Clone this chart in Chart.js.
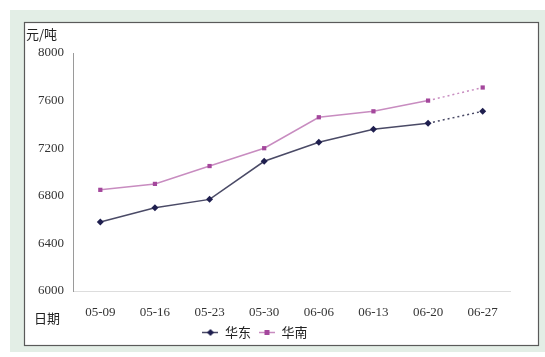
<!DOCTYPE html>
<html>
<head>
<meta charset="utf-8">
<style>
  html, body { margin: 0; padding: 0; background: #ffffff; }
  #wrap { width: 545px; height: 357px; position: relative; }
</style>
<script src="https://cdn.jsdelivr.net/npm/chart.js@4/dist/chart.umd.min.js"></script>
</head>
<body>
<div id="wrap"><canvas id="c" width="545" height="357"></canvas></div>
<script>
// Weekly price, yuan per tonne
const categories = ['05-09', '05-16', '05-23', '05-30', '06-06', '06-13', '06-20', '06-27'];
const eastChina  = [6580, 6700, 6770, 7090, 7250, 7360, 7410, 7510];
const southChina = [6850, 6900, 7050, 7200, 7460, 7510, 7600, 7710];
const yTicks     = [6000, 6400, 6800, 7200, 7600, 8000];
const seriesNames = ['华东', '华南'];

const EAST_LINE = '#4a4a66', EAST_MARK = '#1f1f4f';
const SOUTH_LINE = '#c88cc0', SOUTH_MARK = '#a4479c';
const NUM_FONT = "'Liberation Serif', 'DejaVu Serif', serif";
const CJK_FONT = "'Noto Sans CJK SC', sans-serif";

// Legend swatch: short line with the series marker in the middle
function swatch(lineColor, markColor, shape) {
  const cv = document.createElement('canvas');
  cv.width = 16; cv.height = 9;
  const g = cv.getContext('2d');
  g.strokeStyle = lineColor; g.lineWidth = 1.5;
  g.beginPath(); g.moveTo(0, 4.5); g.lineTo(16, 4.5); g.stroke();
  g.fillStyle = markColor;
  if (shape === 'diamond') {
    g.beginPath(); g.moveTo(8, 1); g.lineTo(11.5, 4.5); g.lineTo(8, 8); g.lineTo(4.5, 4.5); g.closePath(); g.fill();
  } else {
    g.fillRect(5.5, 2, 5, 5);
  }
  return cv;
}

// The last week is a forecast: dotted segment
const dashLast = ctx => ctx.p1DataIndex === categories.length - 1 ? [2, 3] : undefined;

const frame = {
  id: 'frame',
  beforeDraw(chart) {
    const c = chart.ctx;
    c.save();
    c.fillStyle = '#ffffff';
    c.fillRect(0, 0, chart.width, chart.height);
    c.fillStyle = '#e3eee6';
    c.fillRect(10, 10, 535, 342);
    c.fillStyle = '#ffffff';
    c.fillRect(24, 22, 515, 324);
    c.strokeStyle = '#5a5a5a';
    c.lineWidth = 1.2;
    c.strokeRect(24.5, 22.5, 514, 323);
    c.restore();
  },
  afterDraw(chart) {
    const c = chart.ctx;
    c.save();
    c.fillStyle = '#222';
    c.font = "13px " + CJK_FONT;
    c.textBaseline = 'middle';
    c.textAlign = 'left';
    c.fillText('元/吨', 26, 34);
    c.fillText('日期', 34, 318);
    c.restore();
  }
};

new Chart(document.getElementById('c'), {
  type: 'line',
  data: {
    labels: categories,
    datasets: [
      {
        label: seriesNames[0],
        data: eastChina,
        borderColor: EAST_LINE,
        borderWidth: 1.5,
        pointStyle: 'rectRot',
        pointRadius: 3.5,
        pointBackgroundColor: EAST_MARK,
        pointBorderColor: EAST_MARK,
        pointBorderWidth: 0,
        tension: 0,
        segment: { borderDash: dashLast },
        legendSwatch: swatch(EAST_LINE, EAST_MARK, 'diamond')
      },
      {
        label: seriesNames[1],
        data: southChina,
        borderColor: SOUTH_LINE,
        borderWidth: 1.5,
        pointStyle: 'rect',
        pointRadius: 3,
        pointBackgroundColor: SOUTH_MARK,
        pointBorderColor: SOUTH_MARK,
        pointBorderWidth: 0,
        tension: 0,
        segment: { borderDash: dashLast },
        legendSwatch: swatch(SOUTH_LINE, SOUTH_MARK, 'square')
      }
    ]
  },
  options: {
    responsive: false,
    animation: false,
    layout: { padding: { left: 0, right: 35, top: 53, bottom: 8 } },
    plugins: {
      tooltip: { enabled: false },
      legend: {
        position: 'bottom',
        labels: {
          usePointStyle: true,
          pointStyleWidth: 16,
          boxHeight: 9,
          padding: 8,
          color: '#222',
          font: { family: CJK_FONT, size: 13 },
          generateLabels(chart) {
            return chart.data.datasets.map((ds, i) => ({
              text: ds.label,
              pointStyle: ds.legendSwatch,
              fillStyle: ds.pointBackgroundColor,
              strokeStyle: ds.borderColor,
              lineWidth: 0,
              hidden: false,
              datasetIndex: i,
              fontColor: '#222'
            }));
          }
        }
      }
    },
    scales: {
      x: {
        offset: true,
        grid: { display: false },
        border: { color: '#dddddd', width: 1 },
        ticks: { color: '#333', padding: 6, font: { family: NUM_FONT, size: 13 } },
        afterFit(scale) { scale.height = 27; }
      },
      y: {
        min: 6000,
        max: 8000,
        afterBuildTicks(scale) { scale.ticks = yTicks.map(v => ({ value: v })); },
        grid: { display: false, drawTicks: false },
        border: { color: '#9a9a9a', width: 1 },
        ticks: {
          color: '#333',
          padding: 9,
          font: { family: NUM_FONT, size: 13 },
          callback: v => String(v)
        },
        afterFit(scale) { scale.width = 73; }
      }
    }
  },
  plugins: [frame]
});
</script>
</body>
</html>
